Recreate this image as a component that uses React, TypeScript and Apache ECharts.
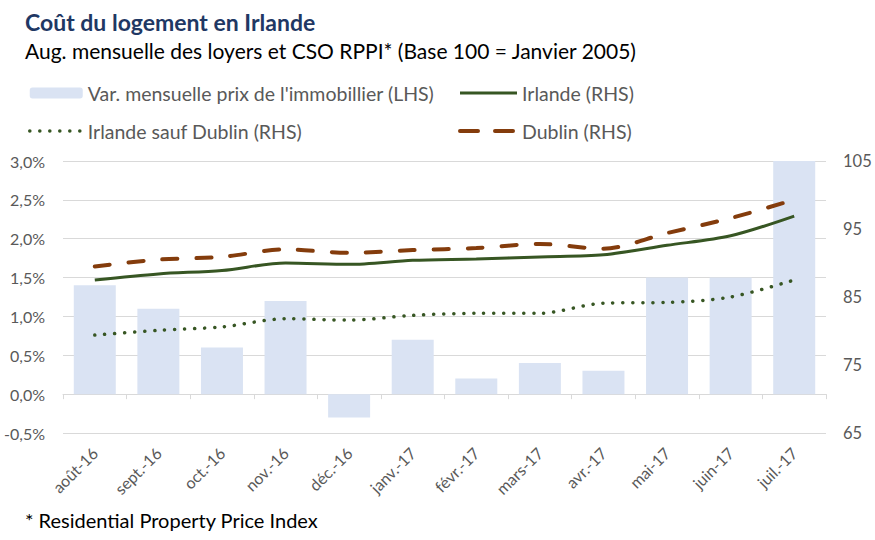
import React, { useEffect, useRef } from "react";
import * as echarts from "echarts";

const categories = ["août-16", "sept.-16", "oct.-16", "nov.-16", "déc.-16", "janv.-17", "févr.-17", "mars-17", "avr.-17", "mai-17", "juin-17", "juil.-17"];
const varMensuelle = [1.4, 1.1, 0.6, 1.2, -0.3, 0.7, 0.2, 0.4, 0.3, 1.5, 1.5, 3.0];
const irlande = [87.5, 88.4, 88.9, 90.0, 89.8, 90.4, 90.6, 90.9, 91.2, 92.6, 94.0, 96.9];
const irlandeSaufDublin = [79.4, 80.1, 80.6, 81.8, 81.6, 82.3, 82.6, 82.6, 84.1, 84.2, 85.0, 87.5];
const dublin = [89.5, 90.5, 90.9, 92.0, 91.5, 91.9, 92.2, 92.8, 92.1, 94.4, 96.6, 99.3];
const rightTicks = [65, 75, 85, 95, 105];

const FONT = "Lato";
const GRAY = "#595959";
const GREEN = "#375623";
const BROWN = "#843c0c";
const hideSymbol = { opacity: 0 };
const solidStyle = { color: GREEN, width: 3 };
const dotStyle = { color: GREEN, width: 3.5, type: [0.1, 9.9], cap: "round" };
const dashStyle = { color: BROWN, width: 4, type: [15, 19], cap: "round" };

export default function App() {
  const ref = useRef<HTMLDivElement>(null);
  useEffect(() => {
    if (!ref.current) return;
    const chart = echarts.init(ref.current, undefined, { renderer: "svg" });
    chart.setOption({
      animation: false,
      backgroundColor: "#ffffff",
      textStyle: { fontFamily: FONT },
      title: [
        { text: "Coût du logement en Irlande", left: 20, top: 5, textStyle: { fontFamily: FONT, fontSize: 23, fontWeight: "bold", color: "#1f3864" } },
        { text: "Aug. mensuelle des loyers et CSO RPPI* (Base 100 = Janvier 2005)", left: 20, top: 35, textStyle: { fontFamily: FONT, fontSize: 21, fontWeight: "normal", color: "#000000" } },
        { text: "* Residential Property Price Index", left: 20, top: 505, textStyle: { fontFamily: FONT, fontSize: 20, fontWeight: "normal", color: "#000000" } },
      ],
      legend: [
        {
          left: 23, top: 76, orient: "vertical", itemWidth: 53, itemHeight: 11, itemGap: 14,
          data: [
            { name: "Var. mensuelle prix de l'immobillier (LHS)" },
            { name: "Irlande sauf Dublin (RHS)", itemStyle: hideSymbol, lineStyle: dotStyle },
          ],
          textStyle: { fontFamily: FONT, fontSize: 19.5, color: GRAY, lineHeight: 24 },
        },
        {
          left: 453, top: 76, orient: "vertical", itemWidth: 57, itemHeight: 11, itemGap: 14,
          data: [
            { name: "Irlande (RHS)", itemStyle: hideSymbol, lineStyle: solidStyle },
            { name: "Dublin (RHS)", itemStyle: hideSymbol, lineStyle: { ...dashStyle, type: [18, 17] } },
          ],
          textStyle: { fontFamily: FONT, fontSize: 19.5, color: GRAY, lineHeight: 24 },
        },
      ],
      grid: { left: 63, right: 49, top: 161, bottom: 107, containLabel: false },
      xAxis: [
        {
          type: "category", data: categories, position: "bottom",
          axisLine: { show: true, onZero: true, onZeroAxisIndex: 0, lineStyle: { color: "#d9d9d9", width: 1 } },
          axisTick: { show: true, length: 5, lineStyle: { color: "#d9d9d9" } },
          axisLabel: { show: false },
        },
        {
          type: "category", data: categories, position: "bottom",
          axisLine: { show: false, onZero: false }, axisTick: { show: false },
          axisLabel: { rotate: 45, fontSize: 16, color: GRAY, fontFamily: FONT, margin: 17 },
        },
      ],
      yAxis: [
        {
          type: "value", min: -0.5, max: 3, interval: 0.5, position: "left",
          axisLine: { show: false }, axisTick: { show: false },
          splitLine: { show: true, lineStyle: { color: "#d9d9d9", width: 1 } },
          axisLabel: { fontSize: 16, color: GRAY, fontFamily: FONT, margin: 18, formatter: (v: number) => v.toFixed(1).replace(".", ",") + "%" },
        },
        {
          type: "value", min: 65, max: 105, position: "right",
          axisLine: { show: false }, axisTick: { show: false }, splitLine: { show: false },
          axisLabel: { fontSize: 16.5, color: GRAY, fontFamily: FONT, margin: 17, customValues: rightTicks },
        },
      ],
      series: [
        {
          name: "Var. mensuelle prix de l'immobillier (LHS)", type: "bar", data: varMensuelle,
          xAxisIndex: 0, yAxisIndex: 0, barWidth: 42, itemStyle: { color: "#dae3f3" }, z: 1,
        },
        {
          name: "Irlande (RHS)", type: "line", data: irlande, xAxisIndex: 0, yAxisIndex: 1,
          smooth: 0.3, symbol: "none", lineStyle: solidStyle, itemStyle: { color: GREEN }, z: 3,
        },
        {
          name: "Irlande sauf Dublin (RHS)", type: "line", data: irlandeSaufDublin, xAxisIndex: 0, yAxisIndex: 1,
          smooth: 0.3, symbol: "none", lineStyle: dotStyle, itemStyle: { color: GREEN }, z: 3,
        },
        {
          name: "Dublin (RHS)", type: "line", data: dublin, xAxisIndex: 0, yAxisIndex: 1,
          smooth: 0.3, symbol: "none", lineStyle: dashStyle, itemStyle: { color: BROWN }, z: 3,
        },
      ],
    });
    return () => chart.dispose();
  }, []);
  return <div ref={ref} style={{ width: 875, height: 540, position: "absolute", left: 0, top: 0 }} />;
}
